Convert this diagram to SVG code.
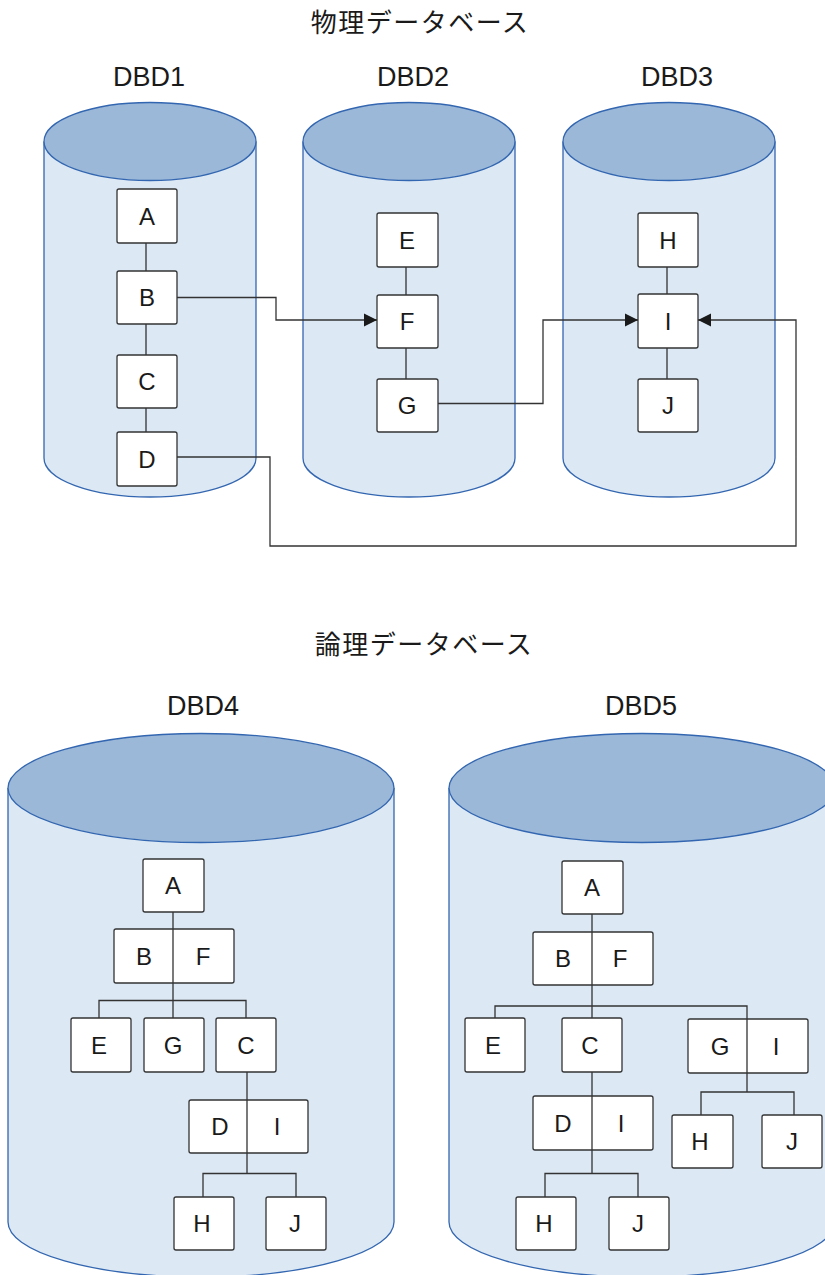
<svg xmlns="http://www.w3.org/2000/svg" width="825" height="1275" viewBox="0 0 825 1275">
<style>
.cyl{fill:#dce9f5;stroke:#3366b0;stroke-width:1.3}
.top{fill:#9bb8d8;stroke:#3366b0;stroke-width:1.3}
.box{fill:#ffffff;stroke:#333333;stroke-width:1.3}
.lbl{font-family:"Liberation Sans",Arial,sans-serif;font-size:24px;fill:#1a1a1a;text-anchor:middle}
.ttl{font-family:"Liberation Sans",Arial,sans-serif;font-size:27px;fill:#1a1a1a;text-anchor:middle}
.jp{font-family:"Noto Sans CJK JP","Noto Sans",sans-serif;font-size:26px;letter-spacing:1.5px;fill:#1a1a1a;text-anchor:middle}
.ln{fill:none;stroke:#333333;stroke-width:1.3}
</style>
<defs>
<marker id="arr" markerUnits="userSpaceOnUse" markerWidth="14" markerHeight="14" viewBox="0 0 14 14" refX="13" refY="7" orient="auto">
<path d="M0,0.5 L13,7 L0,13.5 Z" fill="#1a1a1a"/>
</marker>
</defs>

<g id="titles">
<text class="jp" x="420" y="32">物理データベース</text>
<text class="jp" x="424" y="654">論理データベース</text>
</g>

<!-- Physical cylinders -->
<g id="DBD1">
<path class="cyl" d="M44,141.5 V458 A106,39 0 0 0 256,458 V141.5"/>
<ellipse class="top" cx="150" cy="141.5" rx="106" ry="39"/>
<text class="ttl" x="149" y="86">DBD1</text>
</g>
<g id="DBD2">
<path class="cyl" d="M303,141.5 V458 A106,39 0 0 0 515,458 V141.5"/>
<ellipse class="top" cx="409" cy="141.5" rx="106" ry="39"/>
<text class="ttl" x="413" y="86">DBD2</text>
</g>
<g id="DBD3">
<path class="cyl" d="M563,141.5 V458 A106,39 0 0 0 775,458 V141.5"/>
<ellipse class="top" cx="669" cy="141.5" rx="106" ry="39"/>
<text class="ttl" x="677" y="86">DBD3</text>
</g>

<!-- Logical cylinders -->
<g id="DBD4">
<path class="cyl" d="M8,788 V1222 A193,55 0 0 0 394,1222 V788"/>
<ellipse class="top" cx="201" cy="788" rx="193" ry="54.5"/>
<text class="ttl" x="203" y="715">DBD4</text>
</g>
<g id="DBD5">
<path class="cyl" d="M449,788 V1222 A193,55 0 0 0 835,1222 V788"/>
<ellipse class="top" cx="642" cy="788" rx="193" ry="54.5"/>
<text class="ttl" x="641" y="715">DBD5</text>
</g>

<!-- Physical segments -->
<g id="p1-A"><rect class="box" x="117" y="189" width="60" height="54" rx="2"/><text class="lbl" x="147" y="225">A</text></g>
<g id="p1-B"><rect class="box" x="117" y="271" width="60" height="53" rx="2"/><text class="lbl" x="147" y="306">B</text></g>
<g id="p1-C"><rect class="box" x="117" y="355" width="60" height="53" rx="2"/><text class="lbl" x="147" y="390">C</text></g>
<g id="p1-D"><rect class="box" x="117" y="432" width="60" height="54" rx="2"/><text class="lbl" x="147" y="468">D</text></g>

<g id="p2-E"><rect class="box" x="377" y="213" width="61" height="54" rx="2"/><text class="lbl" x="407" y="249">E</text></g>
<g id="p2-F"><rect class="box" x="377" y="295" width="61" height="53" rx="2"/><text class="lbl" x="407" y="330">F</text></g>
<g id="p2-G"><rect class="box" x="377" y="379" width="61" height="53" rx="2"/><text class="lbl" x="407" y="414">G</text></g>

<g id="p3-H"><rect class="box" x="638" y="213" width="60" height="54" rx="2"/><text class="lbl" x="668" y="249">H</text></g>
<g id="p3-I"><rect class="box" x="638" y="294" width="60" height="54" rx="2"/><text class="lbl" x="668" y="330">I</text></g>
<g id="p3-J"><rect class="box" x="638" y="379" width="60" height="53" rx="2"/><text class="lbl" x="668" y="414">J</text></g>

<!-- DBD4 segments -->
<g id="l4-A"><rect class="box" x="143" y="859" width="61" height="53" rx="2"/><text class="lbl" x="173" y="894">A</text></g>
<g id="l4-BF"><rect class="box" x="114" y="929" width="120" height="54" rx="2"/><text class="lbl" x="144" y="965">B</text><text class="lbl" x="203" y="965">F</text></g>
<g id="l4-E"><rect class="box" x="71" y="1018" width="60" height="54" rx="2"/><text class="lbl" x="99" y="1054">E</text></g>
<g id="l4-G"><rect class="box" x="144" y="1018" width="60" height="54" rx="2"/><text class="lbl" x="173" y="1054">G</text></g>
<g id="l4-C"><rect class="box" x="216" y="1018" width="60" height="54" rx="2"/><text class="lbl" x="246" y="1054">C</text></g>
<g id="l4-DI"><rect class="box" x="189" y="1100" width="119" height="53" rx="2"/><text class="lbl" x="220" y="1135">D</text><text class="lbl" x="277" y="1135">I</text></g>
<g id="l4-H"><rect class="box" x="174" y="1197" width="60" height="53" rx="2"/><text class="lbl" x="202" y="1232">H</text></g>
<g id="l4-J"><rect class="box" x="266" y="1197" width="60" height="53" rx="2"/><text class="lbl" x="295" y="1232">J</text></g>

<!-- DBD5 segments -->
<g id="l5-A"><rect class="box" x="562" y="861" width="61" height="53" rx="2"/><text class="lbl" x="592" y="896">A</text></g>
<g id="l5-BF"><rect class="box" x="533" y="932" width="120" height="53" rx="2"/><text class="lbl" x="563" y="967">B</text><text class="lbl" x="620" y="967">F</text></g>
<g id="l5-E"><rect class="box" x="465" y="1018" width="60" height="54" rx="2"/><text class="lbl" x="493" y="1054">E</text></g>
<g id="l5-C"><rect class="box" x="562" y="1018" width="60" height="54" rx="2"/><text class="lbl" x="590" y="1054">C</text></g>
<g id="l5-GI"><rect class="box" x="688" y="1019" width="120" height="54" rx="2"/><text class="lbl" x="720" y="1055">G</text><text class="lbl" x="776" y="1055">I</text></g>
<g id="l5-DI"><rect class="box" x="533" y="1096" width="120" height="54" rx="2"/><text class="lbl" x="563" y="1132">D</text><text class="lbl" x="621" y="1132">I</text></g>
<g id="l5-H2"><rect class="box" x="672" y="1115" width="61" height="53" rx="2"/><text class="lbl" x="700" y="1150">H</text></g>
<g id="l5-J2"><rect class="box" x="762" y="1115" width="60" height="53" rx="2"/><text class="lbl" x="792" y="1150">J</text></g>
<g id="l5-H"><rect class="box" x="516" y="1197" width="60" height="53" rx="2"/><text class="lbl" x="544" y="1232">H</text></g>
<g id="l5-J"><rect class="box" x="609" y="1197" width="60" height="53" rx="2"/><text class="lbl" x="638" y="1232">J</text></g>

<g id="connectors">
<!-- physical hierarchy -->
<path class="ln" d="M146,243 V271 M146,324 V355 M146,408 V432"/>
<path class="ln" d="M406,267 V295 M406,348 V379"/>
<path class="ln" d="M667,267 V294 M667,348 V379"/>
<!-- pointers -->
<path class="ln" d="M177,297.5 H276 V320 H377" marker-end="url(#arr)"/>
<path class="ln" d="M438,403.5 H543 V320 H638" marker-end="url(#arr)"/>
<path class="ln" d="M177,457 H270 V546 H796 V320 H698" marker-end="url(#arr)"/>
<!-- DBD4 tree -->
<path class="ln" d="M173,912 V1018 M99,1018 V1000.5 H246 V1018 M247,1072 V1173.5 M203,1197 V1173.5 H296 V1197"/>
<!-- DBD5 tree -->
<path class="ln" d="M592,914 V1018 M495,1018 V1006 H747 V1092 M701,1115 V1092 H794 V1115 M592,1072 V1173.5 M545,1197 V1173.5 H638 V1197"/>
</g>
</svg>
